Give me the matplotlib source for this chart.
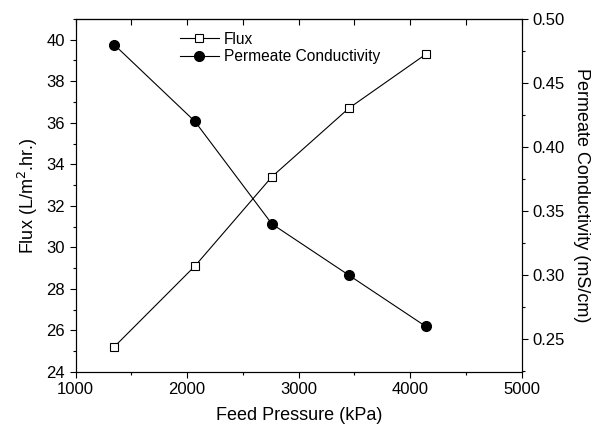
import matplotlib
matplotlib.use('Agg')
from matplotlib import pyplot as plt
from matplotlib.ticker import MultipleLocator, FormatStrFormatter

pressure = [1345, 2070, 2760, 3450, 4140]
flux = [25.2, 29.1, 33.4, 36.7, 39.3]
conductivity = [0.48, 0.42, 0.34, 0.30, 0.26]

plt.rcParams['font.family'] = ['Liberation Sans', 'DejaVu Sans']
plt.rcParams['font.size'] = 12

fig = plt.figure(figsize=(5.95, 4.3), dpi=100)
ax = fig.add_axes([0.127, 0.135, 0.75, 0.821])
ax2 = ax.twinx()

l1, = ax.plot(pressure, flux, color='black', lw=0.8, marker='s', ms=6.3,
              mfc='white', mec='black', mew=0.8, label='Flux')
l2, = ax2.plot(pressure, conductivity, color='black', lw=0.8, marker='o', ms=7,
               mfc='black', mec='black', label='Permeate Conductivity')

ax.set_xlim(1000, 5000)
ax.set_ylim(24, 41)
ax2.set_ylim(0.2245, 0.50)

ax.xaxis.set_major_locator(MultipleLocator(1000))
ax.xaxis.set_minor_locator(MultipleLocator(500))
ax.yaxis.set_major_locator(MultipleLocator(2))
ax.yaxis.set_minor_locator(MultipleLocator(1))
ax2.yaxis.set_major_locator(MultipleLocator(0.05))
ax2.yaxis.set_minor_locator(MultipleLocator(0.025))
ax2.yaxis.set_major_formatter(FormatStrFormatter('%.2f'))

ax.tick_params(axis='both', which='major', direction='out', length=4, width=0.8, labelsize=12)
ax.tick_params(axis='both', which='minor', direction='out', length=2.5, width=0.8)
ax2.tick_params(axis='y', which='major', direction='out', length=4, width=0.8, labelsize=12)
ax2.tick_params(axis='y', which='minor', direction='out', length=2.5, width=0.8)

# top ticks point inward, no labels
sec = ax.secondary_xaxis('top')
sec.xaxis.set_major_locator(MultipleLocator(500))
sec.tick_params(direction='in', length=4, width=0.8, labeltop=False)

for a in (ax, ax2):
    for s in a.spines.values():
        s.set_linewidth(0.8)
sec.spines['top'].set_linewidth(0.8)

ax.set_xlabel('Feed Pressure (kPa)', fontsize=13, labelpad=7)
ax.set_ylabel('Flux (L/m$^2$.hr.)', fontsize=13, labelpad=5)
ax2.set_ylabel('Permeate Conductivity (mS/cm)', fontsize=13, rotation=-90, labelpad=18)

ax.legend([l1, l2], ['Flux', 'Permeate Conductivity'], frameon=False,
          loc='upper left', bbox_to_anchor=(0.234, 0.964), borderaxespad=0,
          borderpad=0, handlelength=2.5, handletextpad=0.3, labelspacing=0.15,
          fontsize=11.2)

fig.savefig('out.png', dpi=100)
